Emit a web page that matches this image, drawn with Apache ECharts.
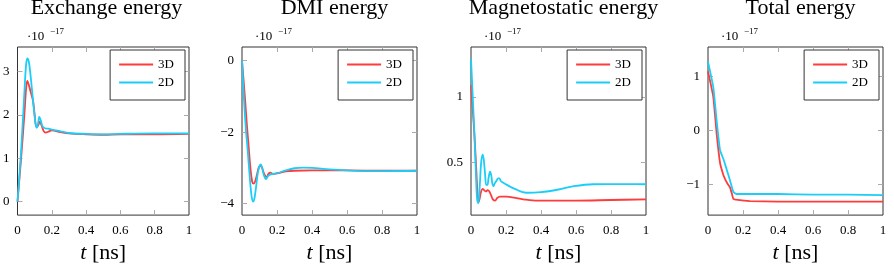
<!DOCTYPE html>
<html><head><meta charset="utf-8">
<script src="https://cdn.jsdelivr.net/npm/echarts@6/dist/echarts.min.js"></script>
<style>html,body{margin:0;padding:0;background:#fff}#c{width:894px;height:269px}</style>
</head><body><div id="c"></div>
<script>
// ---- data (energies in units of 1e-17, time in ns) ----
const seriesNames = ['3D', '2D'];
const titles = ['Exchange energy', 'DMI energy', 'Magnetostatic energy', 'Total energy'];
const xTicks = [0, 0.2, 0.4, 0.6, 0.8, 1];

const ex3D_t = [0, 0.02, 0.04, 0.05, 0.057, 0.065, 0.075, 0.09, 0.1, 0.11, 0.12, 0.13, 0.14, 0.152, 0.165, 0.18, 0.2, 0.25, 0.3, 0.4, 0.5, 0.6, 0.8, 1.0];
const ex3D_v = [0, 0.95, 2.0, 2.6, 2.78, 2.70, 2.55, 2.33, 2.0, 1.72, 1.75, 1.84, 1.76, 1.63, 1.59, 1.61, 1.64, 1.60, 1.57, 1.55, 1.54, 1.55, 1.55, 1.56];
const ex2D_t = [0, 0.02, 0.04, 0.05, 0.058, 0.066, 0.075, 0.09, 0.105, 0.113, 0.12, 0.127, 0.135, 0.145, 0.16, 0.18, 0.2, 0.25, 0.3, 0.4, 0.5, 0.6, 0.8, 1.0];
const ex2D_v = [0, 1.1, 2.5, 3.15, 3.30, 3.22, 2.95, 2.35, 1.80, 1.70, 1.80, 1.95, 1.88, 1.74, 1.69, 1.68, 1.66, 1.62, 1.58, 1.56, 1.55, 1.56, 1.57, 1.57];

const dmi3D_t = [0, 0.017, 0.028, 0.038, 0.048, 0.058, 0.066, 0.075, 0.085, 0.095, 0.106, 0.115, 0.125, 0.14, 0.152, 0.162, 0.175, 0.2, 0.25, 0.3, 0.4, 0.5, 0.6, 0.8, 1.0];
const dmi3D_v = [0, -1.05, -1.8, -2.4, -3.0, -3.38, -3.44, -3.38, -3.2, -3.0, -2.94, -3.0, -3.15, -3.26, -3.16, -3.13, -3.17, -3.15, -3.10, -3.08, -3.07, -3.07, -3.07, -3.08, -3.08];
const dmi2D_t = [0, 0.011, 0.022, 0.034, 0.045, 0.055, 0.063, 0.07, 0.08, 0.09, 0.1, 0.107, 0.115, 0.125, 0.137, 0.15, 0.165, 0.2, 0.25, 0.3, 0.35, 0.4, 0.5, 0.6, 0.7, 0.8, 1.0];
const dmi2D_v = [0, -1.05, -1.9, -2.6, -3.3, -3.8, -3.94, -3.88, -3.55, -3.15, -2.95, -2.90, -3.0, -3.2, -3.31, -3.22, -3.18, -3.15, -3.07, -3.01, -2.99, -3.0, -3.04, -3.07, -3.09, -3.09, -3.08];

const ms3D_t = [0, 0.01, 0.02, 0.03, 0.038, 0.044, 0.05, 0.058, 0.067, 0.075, 0.085, 0.095, 0.105, 0.115, 0.125, 0.138, 0.15, 0.165, 0.18, 0.2, 0.26, 0.3, 0.38, 0.5, 0.6, 0.8, 1.0];
const ms3D_v = [1.09, 0.90, 0.70, 0.45, 0.25, 0.20, 0.23, 0.28, 0.30, 0.29, 0.28, 0.29, 0.28, 0.25, 0.22, 0.21, 0.23, 0.24, 0.24, 0.24, 0.23, 0.22, 0.21, 0.21, 0.21, 0.215, 0.22];
const ms2D_t = [0, 0.01, 0.02, 0.028, 0.035, 0.042, 0.05, 0.058, 0.067, 0.073, 0.08, 0.087, 0.094, 0.1, 0.109, 0.116, 0.122, 0.128, 0.135, 0.145, 0.155, 0.162, 0.17, 0.18, 0.205, 0.25, 0.316, 0.4, 0.5, 0.588, 0.7, 0.78, 0.9, 1.0];
const ms2D_v = [1.29, 1.0, 0.70, 0.42, 0.22, 0.19, 0.32, 0.50, 0.56, 0.52, 0.42, 0.33, 0.33, 0.38, 0.43, 0.40, 0.34, 0.32, 0.34, 0.36, 0.38, 0.38, 0.36, 0.35, 0.33, 0.30, 0.27, 0.275, 0.295, 0.32, 0.335, 0.336, 0.336, 0.335];

const tot3D_t = [0, 0.03, 0.05, 0.069, 0.085, 0.097, 0.11, 0.126, 0.137, 0.145, 0.17, 0.24, 0.4, 0.6, 0.8, 1.0];
const tot3D_v = [1.09, 0.62, -0.08, -0.61, -0.80, -0.90, -0.98, -1.06, -1.18, -1.27, -1.29, -1.31, -1.32, -1.32, -1.32, -1.32];
const tot2D_t = [0, 0.03, 0.05, 0.069, 0.09, 0.107, 0.125, 0.145, 0.164, 0.2, 0.4, 0.6, 0.8, 1.0];
const tot2D_v = [1.27, 0.80, 0.16, -0.37, -0.55, -0.73, -0.92, -1.14, -1.18, -1.18, -1.18, -1.19, -1.19, -1.20];

const yTicks = [[0, 1, 2, 3], [0, -2, -4], [0.5, 1], [-1, 0, 1]];
const yRanges = [[-0.31, 3.56], [-4.32, 0.38], [0.10, 1.38], [-1.57, 1.54]];

const data3D = [[ex3D_t, ex3D_v], [dmi3D_t, dmi3D_v], [ms3D_t, ms3D_v], [tot3D_t, tot3D_v]];
const data2D = [[ex2D_t, ex2D_v], [dmi2D_t, dmi2D_v], [ms2D_t, ms2D_v], [tot2D_t, tot2D_v]];

// ---- layout / style ----
const FONT = '"Liberation Serif", "DejaVu Serif", serif';
const COLORS = ['#ff3b3b', '#1ccdf7'];
const gridLefts = [14, 242, 471, 708];
const smoothing = [0.35, 0.35, 0.35, 0.15];
const gridW = 175, gridTop = 47, gridH = 174;
const W = 894;
const fmt = v => String(v).replace('-', '\u2212');
const pairs = (t, v) => t.map((x, i) => [x, v[i]]);

const option = {
  backgroundColor: '#fff',
  animation: false,
  title: [], grid: [], xAxis: [], yAxis: [], legend: [], series: []
};

const tickStyle = { inside: true, length: 5, lineStyle: { color: '#aaaaaa', width: 1 } };
const noLine = { show: false, onZero: false };

for (let i = 0; i < 4; i++) {
  const L = gridLefts[i];
  option.grid.push({ left: L, top: gridTop, width: gridW, height: gridH, show: true,
    borderColor: '#333', borderWidth: 1, backgroundColor: 'transparent' });
  option.title.push({ text: titles[i], left: L + gridW / 2, top: -8, textAlign: 'center',
    textStyle: { fontFamily: FONT, fontSize: 22, fontWeight: 'normal', color: '#000' } });
  option.title.push({ text: '\u00b710', left: L + 8, top: 25,
    textStyle: { fontFamily: FONT, fontSize: 13, fontWeight: 'normal', color: '#000' } });
  option.title.push({ text: '\u221217', left: L + 31, top: 22,
    textStyle: { fontFamily: FONT, fontSize: 9, fontWeight: 'normal', color: '#000' } });

  // bottom x
  option.xAxis.push({ gridIndex: i, type: 'value', min: 0, max: 1, interval: 0.2,
    axisLine: noLine, splitLine: { show: false },
    axisTick: Object.assign({ customValues: xTicks.slice(1, -1) }, tickStyle),
    axisLabel: { margin: 9, fontFamily: FONT, fontSize: 13, color: '#000', showMinLabel: true, showMaxLabel: true, formatter: fmt },
    name: '{i|t} [ns]', nameLocation: 'middle', nameGap: 26,
    nameTextStyle: { fontFamily: FONT, fontSize: 22, color: '#000',
      rich: { i: { fontFamily: FONT, fontSize: 22, fontStyle: 'italic', color: '#000' } } }
  });
  // top x (ticks only)
  option.xAxis.push({ gridIndex: i, type: 'value', position: 'top', min: 0, max: 1, interval: 0.2,
    axisLine: noLine, splitLine: { show: false }, axisLabel: { show: false },
    axisTick: Object.assign({ customValues: xTicks.slice(1, -1) }, tickStyle) });
  // left y
  option.yAxis.push({ gridIndex: i, type: 'value', min: yRanges[i][0], max: yRanges[i][1],
    axisLine: noLine, splitLine: { show: false },
    axisTick: Object.assign({ customValues: yTicks[i] }, tickStyle),
    axisLabel: { customValues: yTicks[i], margin: 8, fontFamily: FONT, fontSize: 13, color: '#000', formatter: fmt } });
  // right y
  option.yAxis.push({ gridIndex: i, type: 'value', position: 'right', min: yRanges[i][0], max: yRanges[i][1],
    axisLine: noLine, splitLine: { show: false }, axisLabel: { show: false },
    axisTick: Object.assign({ customValues: yTicks[i] }, tickStyle) });

  option.legend.push({ orient: 'vertical', right: W - (L + gridW - 4), top: 50,
    data: seriesNames, icon: 'rect', itemWidth: 34, itemHeight: 2, itemGap: 5,
    padding: [8, 11, 11, 9], borderColor: '#333', borderWidth: 1, borderRadius: 0, backgroundColor: '#fff',
    textStyle: { fontFamily: FONT, fontSize: 13, color: '#000' }, selectedMode: false });

  [data3D[i], data2D[i]].forEach((d, k) => {
    option.series.push({ type: 'line', name: seriesNames[k], xAxisIndex: 2 * i, yAxisIndex: 2 * i,
      data: pairs(d[0], d[1]), showSymbol: false, symbol: 'none', smooth: smoothing[i],
      lineStyle: { color: COLORS[k], width: 1.8 }, itemStyle: { color: COLORS[k] } });
  });
}

const chart = echarts.init(document.getElementById('c'), null, { renderer: 'canvas' });
chart.setOption(option);
</script></body></html>
